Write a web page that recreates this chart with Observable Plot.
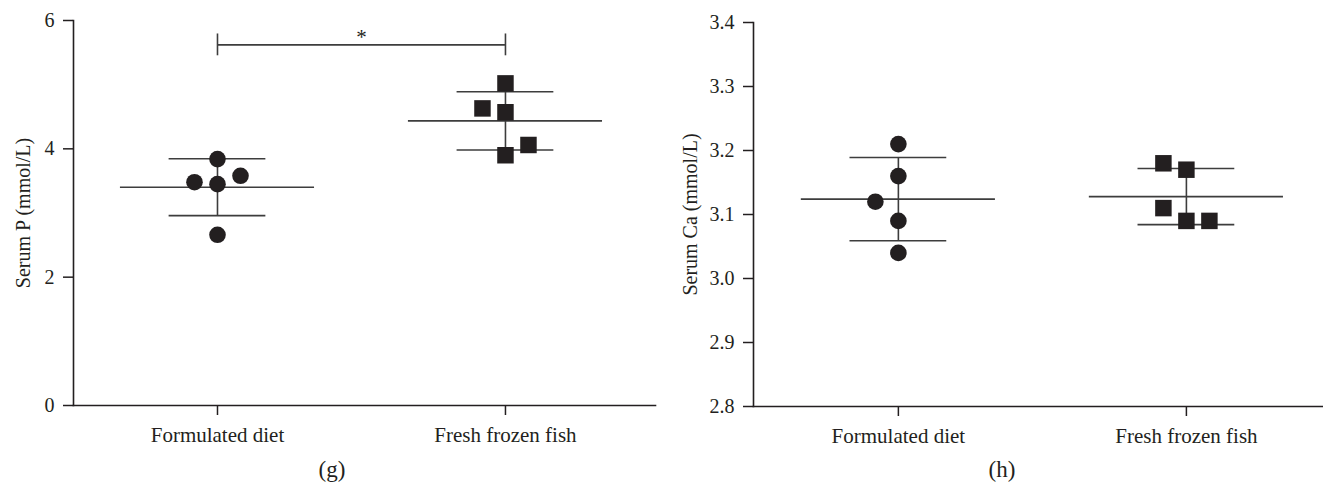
<!DOCTYPE html>
<html>
<head>
<meta charset="utf-8">
<script src="https://cdn.jsdelivr.net/npm/d3@7"></script>
<script src="https://cdn.jsdelivr.net/npm/@observablehq/plot@0.6"></script>
<style>
  html, body { margin: 0; padding: 0; background: #fff; }
  #wrap { position: relative; width: 1323px; height: 487px; overflow: hidden; font-family: "Liberation Serif", serif; color: #231f20; }
  .panel { position: absolute; top: 0; }
  .cap { position: absolute; top: 457px; width: 60px; margin-left: -30px; text-align: center; font-size: 23px; line-height: 26px; }
</style>
</head>
<body>
<div id="wrap">
  <div id="g" class="panel" style="left:0px"></div>
  <div id="h" class="panel" style="left:663px"></div>
  <div class="cap" style="left:332px">(g)</div>
  <div class="cap" style="left:1002px">(h)</div>
</div>
<script>
// ---- data ----
const categories = ["Formulated diet", "Fresh frozen fish"];

const serumP_formulated = [3.84, 3.48, 3.45, 3.58, 2.66];
const serumP_fish       = [5.02, 4.63, 4.57, 4.06, 3.90];
const serumCa_formulated = [3.21, 3.16, 3.12, 3.09, 3.04];
const serumCa_fish       = [3.18, 3.17, 3.11, 3.09, 3.09];

// swarm lane of each point (-1 left, 0 centre, 1 right)
const laneP_formulated  = [0, -1, 0, 1, 0];
const laneP_fish        = [0, -1, 0, 1, 0];
const laneCa_formulated = [0, 0, -1, 0, 0];
const laneCa_fish       = [-1, 0, -1, 0, 1];

const ticksP  = [0, 2, 4, 6];
const ticksCa = [2.8, 2.9, 3.0, 3.1, 3.2, 3.3, 3.4];

const sigP = [{from: 0, to: 1, y: 5.62, label: "*"}];

// ---- drawing ----
const ink = "#231f20";
const lineCol = "#3d3d3d";

function panel({groups, lanes, yDomain, yTicks, yFormat, yLabel, width, marginLeft, marginRight, marginTop, marginBottom, xDomain, labelOffset, sig}) {
  const rows = [];
  groups.forEach((vals, g) => vals.forEach((v, i) => rows.push({g, v, lane: lanes[g][i]})));
  const stats = groups.map((vals, g) => ({g, mean: d3.mean(vals), sd: d3.deviation(vals)}));
  const meanHalf = 0.337, sdHalf = 0.168;

  const marks = [
    Plot.ruleY(stats, {y: "mean", x1: d => d.g - meanHalf, x2: d => d.g + meanHalf, stroke: lineCol, strokeWidth: 1.6}),
    Plot.ruleY(stats, {y: d => d.mean + d.sd, x1: d => d.g - sdHalf, x2: d => d.g + sdHalf, stroke: lineCol, strokeWidth: 1.6}),
    Plot.ruleY(stats, {y: d => d.mean - d.sd, x1: d => d.g - sdHalf, x2: d => d.g + sdHalf, stroke: lineCol, strokeWidth: 1.6}),
    Plot.ruleX(stats, {x: "g", y1: d => d.mean - d.sd, y2: d => d.mean + d.sd, stroke: lineCol, strokeWidth: 1.6})
  ];
  for (const g of [0, 1]) {
    for (const lane of [-1, 0, 1]) {
      const sub = rows.filter(d => d.g === g && d.lane === lane);
      if (!sub.length) continue;
      marks.push(Plot.dot(sub, {
        x: "g", y: "v", dx: lane * 23,
        symbol: g === 0 ? "circle" : "square",
        r: g === 0 ? 8.3 : 9.3,
        fill: ink, stroke: "none"
      }));
    }
  }
  if (sig) {
    marks.push(
      Plot.ruleY(sig, {y: "y", x1: "from", x2: "to", stroke: lineCol, strokeWidth: 1.6}),
      Plot.ruleX(sig, {x: "from", y1: d => d.y - 0.17, y2: d => d.y + 0.17, stroke: lineCol, strokeWidth: 1.6}),
      Plot.ruleX(sig, {x: "to", y1: d => d.y - 0.17, y2: d => d.y + 0.17, stroke: lineCol, strokeWidth: 1.6}),
      Plot.text(sig, {x: d => (d.from + d.to) / 2, y: "y", text: "label", lineAnchor: "bottom", dy: -1, fontSize: 21, fill: ink})
    );
  }
  marks.push(
    Plot.axisY({ticks: yTicks, tickFormat: yFormat, tickSize: 10, tickPadding: 9, stroke: ink, strokeWidth: 1.5,
      label: yLabel, labelAnchor: "center", labelOffset, labelArrow: "none", fontSize: 20}),
    Plot.axisX({ticks: [0, 1], tickFormat: i => categories[i], tickSize: 10, tickPadding: 12, stroke: ink, strokeWidth: 1.5,
      label: null, fontSize: 21}),
    Plot.frame({anchor: "left", stroke: ink, strokeWidth: 1.6}),
    Plot.frame({anchor: "bottom", stroke: ink, strokeWidth: 1.6})
  );

  return Plot.plot({
    width, height: 450,
    marginLeft, marginRight, marginTop, marginBottom,
    style: {fontFamily: "Liberation Serif, serif", fontSize: "20px", color: ink, background: "white", overflow: "visible"},
    x: {type: "linear", domain: xDomain},
    y: {domain: yDomain},
    marks
  });
}

document.getElementById("g").append(panel({
  groups: [serumP_formulated, serumP_fish],
  lanes: [laneP_formulated, laneP_fish],
  yDomain: [0, 6], yTicks: ticksP, yFormat: d3.format("d"),
  yLabel: "Serum P (mmol/L)",
  width: 663, marginLeft: 73, marginRight: 8, marginTop: 20, marginBottom: 45,
  xDomain: [-0.5, 1.521], labelOffset: 58, sig: sigP
}));

document.getElementById("h").append(panel({
  groups: [serumCa_formulated, serumCa_fish],
  lanes: [laneCa_formulated, laneCa_fish],
  yDomain: [2.8, 3.4], yTicks: ticksCa, yFormat: d3.format(".1f"),
  yLabel: "Serum Ca (mmol/L)",
  width: 660, marginLeft: 90, marginRight: 0, marginTop: 22, marginBottom: 44,
  xDomain: [-0.503, 1.476], labelOffset: 71, sig: null
}));
</script>
</body>
</html>
